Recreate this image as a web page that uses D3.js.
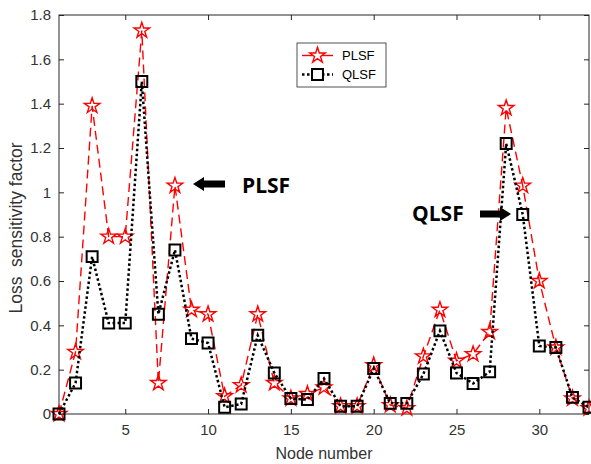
<!DOCTYPE html>
<html>
<head>
<meta charset="utf-8">
<script src="https://cdn.jsdelivr.net/npm/d3@7"></script>
<style>
  body { margin: 0; background: #fff; }
  text { font-family: "Liberation Sans", Arial, sans-serif; }
</style>
</head>
<body>
<div id="chart"></div>
<script>
const nodes = d3.range(1, 34);
const plsf = [0.0, 0.28, 1.39, 0.80, 0.80, 1.73, 0.14, 1.03, 0.47, 0.45, 0.08,
  0.13, 0.45, 0.14, 0.07, 0.09, 0.12, 0.035, 0.035, 0.22, 0.04, 0.026, 0.26,
  0.47, 0.24, 0.27, 0.37, 1.38, 1.03, 0.60, 0.30, 0.07, 0.026];
const qlsf = [0.0, 0.14, 0.71, 0.41, 0.41, 1.50, 0.45, 0.74, 0.34, 0.32, 0.03,
  0.045, 0.355, 0.185, 0.07, 0.065, 0.16, 0.035, 0.035, 0.205, 0.048, 0.048, 0.18,
  0.375, 0.185, 0.138, 0.19, 1.22, 0.90, 0.307, 0.30, 0.075, 0.03];
const xTicks = [5, 10, 15, 20, 25, 30];
const yTicks = [0, 0.2, 0.4, 0.6, 0.8, 1, 1.2, 1.4, 1.6, 1.8];

const width = 591, height = 464;
const margin = {top: 15, right: 2, bottom: 50, left: 59};

const svg = d3.select('#chart')
  .append('svg')
    .attr('width', width)
    .attr('height', height);

const x = d3.scaleLinear().domain([1, 33]).range([margin.left, width - margin.right]);
const y = d3.scaleLinear().domain([0, 1.8]).range([height - margin.bottom, margin.top]);

const axisColor = '#262626';

// axes with inward ticks on all four sides
const fmt = (d) => d3.format('~g')(d);
svg.append('g')
  .attr('transform', 'translate(0,' + y(0) + ')')
  .call(d3.axisBottom(x).tickValues(xTicks).tickSizeInner(-5).tickSizeOuter(0).tickPadding(10))
  .call((g) => g.select('.domain').remove());
svg.append('g')
  .attr('transform', 'translate(0,' + y(1.8) + ')')
  .call(d3.axisTop(x).tickValues(xTicks).tickSizeInner(-5).tickSizeOuter(0).tickFormat(''))
  .call((g) => g.select('.domain').remove());
svg.append('g')
  .attr('transform', 'translate(' + x(1) + ',0)')
  .call(d3.axisLeft(y).tickValues(yTicks).tickSizeInner(-5).tickSizeOuter(0).tickPadding(8).tickFormat(fmt))
  .call((g) => g.select('.domain').remove());
svg.append('g')
  .attr('transform', 'translate(' + x(33) + ',0)')
  .call(d3.axisRight(y).tickValues(yTicks).tickSizeInner(-5).tickSizeOuter(0).tickFormat(''))
  .call((g) => g.select('.domain').remove());

svg.selectAll('.tick line').attr('stroke', axisColor);
svg.selectAll('.tick text')
  .attr('fill', '#333')
  .style('font-size', '15px');

svg.append('rect')
  .attr('x', x(1)).attr('y', y(1.8))
  .attr('width', x(33) - x(1)).attr('height', y(0) - y(1.8))
  .attr('fill', 'none').attr('stroke', axisColor).attr('stroke-width', 1);

// axis titles
svg.append('text')
  .attr('x', (x(1) + x(33)) / 2).attr('y', 459)
  .attr('text-anchor', 'middle')
  .attr('fill', '#333')
  .style('font-size', '16px')
  .text('Node number');
svg.append('text')
  .attr('transform', 'translate(22,228) rotate(-90)')
  .attr('text-anchor', 'middle')
  .attr('fill', '#333')
  .style('font-size', '17.5px')
  .style('white-space', 'pre')
  .text('Loss  sensitivity factor');

const line = d3.line().x((d, i) => x(nodes[i])).y((d) => y(d));
const star = d3.symbol().type(d3.symbolStar).size(75);
const square = d3.symbol().type(d3.symbolSquare).size(120);

// PLSF
svg.append('path')
  .datum(plsf)
  .attr('d', line)
  .attr('fill', 'none')
  .attr('stroke', '#ff0000')
  .attr('stroke-width', 1.4)
  .attr('stroke-dasharray', '9,5');
svg.selectAll('.star')
  .data(plsf).enter().append('path')
  .attr('class', 'star')
  .attr('transform', (d, i) => 'translate(' + x(nodes[i]) + ',' + y(d) + ')')
  .attr('d', star)
  .attr('fill', 'none')
  .attr('stroke', '#ff0000')
  .attr('stroke-width', 1.4);

// QLSF
svg.append('path')
  .datum(qlsf)
  .attr('d', line)
  .attr('fill', 'none')
  .attr('stroke', '#000')
  .attr('stroke-width', 2.5)
  .attr('stroke-dasharray', '2.5,2.5');
svg.selectAll('.sq')
  .data(qlsf).enter().append('path')
  .attr('class', 'sq')
  .attr('transform', (d, i) => 'translate(' + x(nodes[i]) + ',' + y(d) + ')')
  .attr('d', square)
  .attr('fill', 'none')
  .attr('stroke', '#000')
  .attr('stroke-width', 2);

// legend
const legend = svg.append('g').attr('transform', 'translate(297,43)');
legend.append('rect')
  .attr('width', 89).attr('height', 44)
  .attr('fill', '#fff').attr('stroke', '#262626').attr('stroke-width', 0.8);
legend.append('line')
  .attr('x1', 5).attr('x2', 36).attr('y1', 12.5).attr('y2', 12.5)
  .attr('stroke', '#ff0000').attr('stroke-width', 1.4);
legend.append('path')
  .attr('transform', 'translate(20.5,12.5)').attr('d', star)
  .attr('fill', '#fff').attr('stroke', '#ff0000').attr('stroke-width', 1.4);
legend.append('line')
  .attr('x1', 5).attr('x2', 36).attr('y1', 31.5).attr('y2', 31.5)
  .attr('stroke', '#000').attr('stroke-width', 2.5).attr('stroke-dasharray', '2.5,2.5');
legend.append('path')
  .attr('transform', 'translate(20.5,31.5)').attr('d', square)
  .attr('fill', '#fff').attr('stroke', '#000').attr('stroke-width', 2);
legend.selectAll('.lt')
  .data(['PLSF', 'QLSF']).enter().append('text')
  .attr('x', 45).attr('y', (d, i) => 17 + i * 19)
  .attr('fill', '#000')
  .style('font-size', '13px')
  .text((d) => d);

// annotations
function arrow(x0, x1, yc) {
  const dir = x1 > x0 ? 1 : -1;
  const head = 11 * dir;
  return 'M' + x0 + ',' + (yc - 3.5) +
    'L' + (x1 - head) + ',' + (yc - 3.5) +
    'L' + (x1 - head) + ',' + (yc - 7) +
    'L' + x1 + ',' + yc +
    'L' + (x1 - head) + ',' + (yc + 7) +
    'L' + (x1 - head) + ',' + (yc + 3.5) +
    'L' + x0 + ',' + (yc + 3.5) + 'Z';
}
svg.append('path').attr('d', arrow(225, 193, 184)).attr('fill', '#000');
svg.append('text')
  .attr('x', 242).attr('y', 193)
  .attr('fill', '#000')
  .style('font-family', '"Open Sans", sans-serif')
  .style('font-weight', 'bold')
  .style('font-size', '21px')
  .text('PLSF');
svg.append('path').attr('d', arrow(480, 511, 214)).attr('fill', '#000');
svg.append('text')
  .attr('x', 412).attr('y', 221)
  .attr('fill', '#000')
  .style('font-family', '"Open Sans", sans-serif')
  .style('font-weight', 'bold')
  .style('font-size', '21px')
  .text('QLSF');
</script>
</body>
</html>
